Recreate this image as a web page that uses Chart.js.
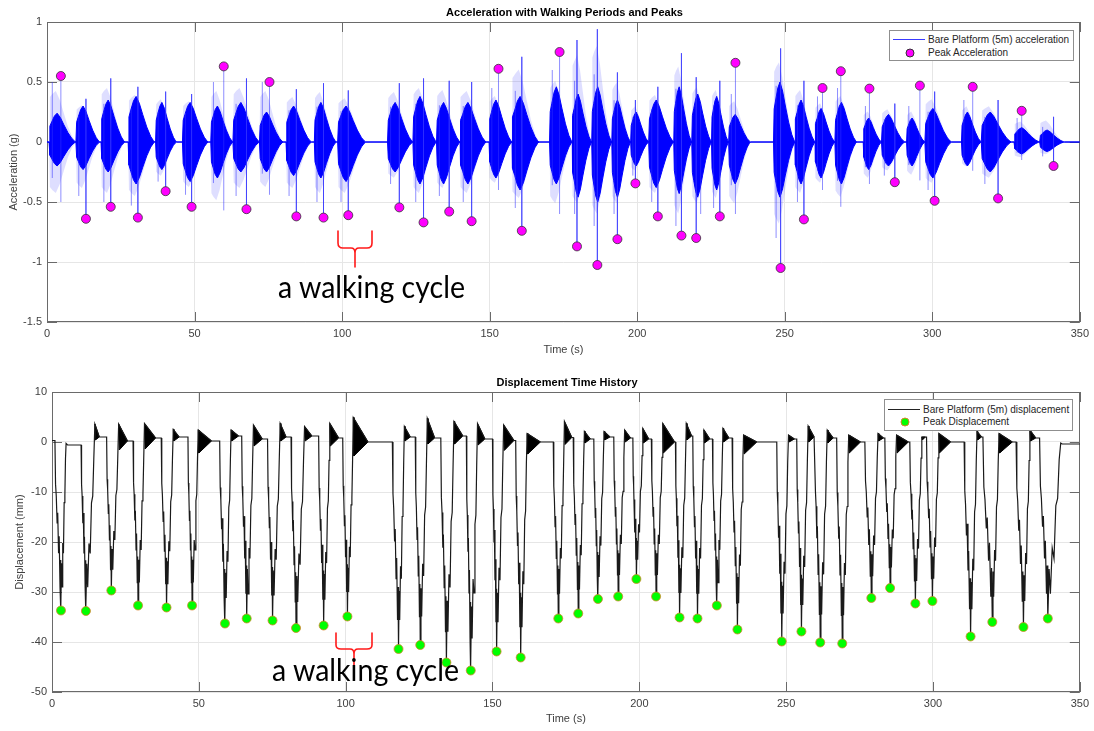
<!DOCTYPE html>
<html><head><meta charset="utf-8">
<script src="https://cdn.jsdelivr.net/npm/chart.js@4.4.1/dist/chart.umd.min.js"></script>
<style>
html,body{margin:0;padding:0;background:#fff;}
body{width:1094px;height:731px;position:relative;overflow:hidden;font-family:"Liberation Sans",Arial,sans-serif;}
.wrap{position:absolute;left:0;width:1094px;}
.title{position:absolute;font-weight:bold;font-size:11px;color:#000;white-space:nowrap;transform:translate(-50%,-50%);line-height:13px;}
.legend{position:absolute;background:#fff;border:1px solid #8f8f8f;box-sizing:border-box;}
.ltxt{position:absolute;font-size:10px;color:#262626;white-space:nowrap;line-height:12px;transform:translateY(-50%);}
.lline{position:absolute;height:1px;}
.ldot{position:absolute;width:9px;height:9px;border-radius:50%;box-sizing:border-box;transform:translate(-50%,-50%);}
svg.ov{position:absolute;left:0;top:0;pointer-events:none;}
</style></head>
<body>
<div class="wrap" style="top:0;height:365px"><canvas id="c1" width="1094" height="365"></canvas></div>
<div class="wrap" style="top:365px;height:366px"><canvas id="c2" width="1094" height="366"></canvas></div>

<div class="title" style="left:564.5px;top:12px">Acceleration with Walking Periods and Peaks</div>
<div class="title" style="left:567px;top:382px">Displacement Time History</div>

<div class="legend" style="left:889px;top:30px;width:185px;height:31px"></div>
<div class="lline" style="left:893px;top:39px;width:32px;background:#3a3aff"></div>
<div class="ldot" style="left:909.5px;top:52.5px;background:#ff00ff;border:1px solid #333"></div>
<div class="ltxt" style="left:928px;top:39.5px">Bare Platform (5m) acceleration</div>
<div class="ltxt" style="left:928px;top:52.5px">Peak Acceleration</div>

<div class="legend" style="left:884px;top:399px;width:189px;height:32px"></div>
<div class="lline" style="left:888px;top:409px;width:32px;background:#222"></div>
<div class="ldot" style="left:904.5px;top:422px;background:#00ff00;border:1px solid #d9822b"></div>
<div class="ltxt" style="left:923px;top:409.5px">Bare Platform (5m) displacement</div>
<div class="ltxt" style="left:923px;top:422px">Peak Displacement</div>

<svg class="ov" width="1094" height="731" viewBox="0 0 1094 731">
  <g fill="none" stroke="#ff1a1a" stroke-width="1.6" stroke-linecap="round">
    <path d="M338,231 L338,243 Q338,248 343,248 L351,248 Q355,248 355,253 L355,267 M355,253 Q355,248 359,248 L367,248 Q372,248 372,243 L372,231"/>
    <path d="M336,633 L336,645 Q336,649 341,649 L350,649 Q354,649 354,654 L354,667 M354,654 Q354,649 358,649 L367,649 Q372,649 372,645 L372,633"/>
  </g>
  <text x="278" y="298" font-family="Lato, 'Open Sans', sans-serif" font-size="31" fill="#000" textLength="187" lengthAdjust="spacingAndGlyphs">a walking cycle</text>
  <text x="272" y="681" font-family="Lato, 'Open Sans', sans-serif" font-size="31" fill="#000" textLength="187" lengthAdjust="spacingAndGlyphs">a walking cycle</text>
</svg>

<script>
// ---------------- DATA ----------------
const timeTicks = [0, 50, 100, 150, 200, 250, 300, 350];
const accTicks = [-1.5, -1, -0.5, 0, 0.5, 1];
const dispTicks = [-50, -40, -30, -20, -10, 0, 10];

// acceleration bursts (s) and envelope amplitudes (g)
const accStart = [0.7, 9.8, 18.3, 27.5, 36.8, 45.9, 55.5, 63.0, 72.0, 81.0, 90.6, 98.5, 115.4, 124.0, 132.0, 140.0, 149.8, 157.6, 170.3, 178.0, 184.6, 191.4, 197.8, 203.9, 212.4, 218.5, 225.2, 231.0, 246.2, 253.5, 260.3, 267.0, 276.6, 282.8, 291.3, 297.5, 309.9, 316.6, 327.7, 336.4];
const accEnd = [9.8, 17.9, 26.4, 36.5, 43.9, 54.6, 63.0, 72.0, 80.0, 89.6, 98.0, 108.0, 124.0, 132.0, 140.0, 148.8, 157.6, 166.7, 178.0, 184.6, 191.4, 197.8, 203.9, 212.4, 218.5, 225.2, 231.0, 238.4, 253.5, 260.3, 267.0, 274.4, 282.8, 290.7, 297.5, 306.5, 316.6, 326.8, 336.4, 344.8];
const accCoreUp = [0.24, 0.30, 0.35, 0.38, 0.33, 0.33, 0.30, 0.33, 0.25, 0.30, 0.33, 0.30, 0.33, 0.38, 0.33, 0.33, 0.35, 0.38, 0.46, 0.40, 0.46, 0.35, 0.25, 0.35, 0.46, 0.40, 0.38, 0.23, 0.50, 0.35, 0.28, 0.33, 0.20, 0.23, 0.20, 0.28, 0.25, 0.25, 0.12, 0.10];
const accCoreDn = [-0.20, -0.23, -0.25, -0.35, -0.23, -0.33, -0.30, -0.25, -0.25, -0.28, -0.30, -0.33, -0.25, -0.35, -0.35, -0.35, -0.30, -0.40, -0.35, -0.46, -0.50, -0.46, -0.20, -0.38, -0.43, -0.46, -0.40, -0.35, -0.46, -0.35, -0.30, -0.35, -0.23, -0.20, -0.20, -0.30, -0.20, -0.25, -0.10, -0.08];
const accSpikeUp = [0.50, 0.36, 0.53, 0.46, 0.42, 0.40, 0.50, 0.53, 0.50, 0.44, 0.49, 0.43, 0.49, 0.53, 0.51, 0.50, 0.45, 0.71, 0.60, 0.85, 0.94, 0.58, 0.35, 0.46, 0.74, 0.54, 0.51, 0.40, 0.78, 0.51, 0.38, 0.45, 0.30, 0.32, 0.30, 0.42, 0.35, 0.35, 0.20, 0.21];
const accSpikeDn = [-0.50, -0.45, -0.50, -0.53, -0.33, -0.44, -0.57, -0.45, -0.44, -0.45, -0.50, -0.50, -0.35, -0.50, -0.45, -0.50, -0.40, -0.55, -0.60, -0.60, -0.70, -0.60, -0.28, -0.50, -0.70, -0.60, -0.55, -0.60, -0.80, -0.50, -0.40, -0.54, -0.35, -0.28, -0.32, -0.40, -0.24, -0.35, -0.15, -0.12];
const accPeakT = [4.7, 13.2, 21.6, 30.8, 40.2, 49.0, 59.9, 67.6, 75.4, 84.5, 93.7, 102.1, 119.4, 127.6, 136.3, 143.9, 153.0, 160.9, 173.7, 179.6, 186.5, 193.3, 199.4, 207.0, 215.0, 220.0, 228.0, 233.3, 248.6, 256.5, 262.8, 269.0, 278.7, 287.3, 295.8, 300.8, 313.7, 322.3, 330.3, 341.1];
const accPeakV = [0.55, -0.64, -0.54, -0.63, -0.41, -0.54, 0.63, -0.56, 0.50, -0.62, -0.63, -0.61, -0.545, -0.67, -0.58, -0.66, 0.61, -0.74, 0.75, -0.87, -1.025, -0.81, -0.345, -0.62, -0.78, -0.80, -0.62, 0.66, -1.05, -0.645, 0.45, 0.59, 0.445, -0.335, 0.47, -0.49, 0.46, -0.47, 0.26, -0.20];

// displacement cycles (s, mm)
const dispInitial = 0.3;
const dispDropT = [1.0, 9.9, 18.6, 27.6, 37.2, 46.3, 57.1, 64.6, 73.4, 81.4, 90.8, 99.0, 115.9, 123.7, 132.4, 141.1, 150.0, 157.9, 170.7, 177.5, 184.5, 191.3, 197.8, 204.1, 212.3, 218.2, 224.9, 231.6, 246.8, 253.6, 259.8, 267.2, 276.8, 283.6, 292.1, 297.8, 310.6, 317.0, 328.3, 336.3];
const dispPeakT = [3.06, 11.55, 20.2, 29.3, 39.0, 47.7, 58.9, 66.3, 75.1, 83.1, 92.5, 100.6, 118.0, 125.4, 134.3, 142.6, 151.4, 159.6, 172.4, 179.2, 185.9, 192.8, 199.0, 205.7, 213.7, 219.8, 226.4, 233.4, 248.5, 255.2, 261.6, 269.1, 279.0, 285.4, 294.0, 299.8, 312.8, 320.2, 330.8, 339.1];
const dispPeakV = [-33.7, -33.8, -29.7, -32.7, -33.1, -32.7, -36.3, -35.3, -35.7, -37.2, -36.7, -34.9, -41.4, -40.6, -44.1, -45.7, -41.9, -43.1, -35.3, -34.3, -31.4, -30.9, -27.4, -30.9, -35.1, -35.3, -32.7, -37.5, -39.9, -37.9, -40.1, -40.3, -31.2, -29.2, -32.3, -31.8, -38.9, -36.0, -37.0, -35.3];
const dispRiseT = [4.8, 14.6, 22.7, 31.5, 41.3, 49.8, 61.0, 68.6, 77.7, 86.0, 94.6, 102.6, 120.0, 127.8, 136.9, 144.9, 153.8, 161.8, 174.5, 181.3, 188.0, 195.0, 201.2, 208.0, 216.0, 222.0, 228.5, 235.5, 250.8, 257.5, 264.0, 271.3, 281.3, 287.6, 296.2, 302.0, 315.0, 322.5, 333.0, 343.5];
const dispOverV = [-0.3, 3.6, 3.6, 3.7, 2.5, 2.4, 2.4, 3.4, 3.7, 3.1, 3.7, 4.9, 3.1, 4.7, 4.1, 3.7, 3.4, 1.7, 4.1, 2.1, 2.1, 2.4, 2.7, 3.7, 3.7, 2.4, 2.7, 1.4, 1.4, 3.2, 2.4, 1.4, 1.7, 1.4, 1.0, 1.7, 2.1, 1.7, 2.4, -0.2];
const dispRingAmp = [0, 0.6, 1.8, 2.2, 0.8, 2.4, 1.0, 1.4, 0.8, 1.0, 1.6, 2.8, 0.8, 1.2, 1.6, 1.2, 2.0, 2.4, 1.4, 0.8, 0.6, 0.8, 0.8, 2.2, 0.8, 0.8, 0.8, 2.4, 0.6, 1.0, 1.0, 2.2, 0.6, 2.2, 0.6, 2.2, 0.6, 2.2, 0.6, 0];
const dispRingLen = [0, 1.5, 3.0, 3.8, 2.0, 4.5, 2.5, 3.0, 2.0, 2.5, 3.0, 5.0, 2.0, 2.5, 3.0, 2.5, 3.5, 4.5, 2.5, 2.0, 2.0, 2.0, 2.0, 4.0, 1.8, 2.0, 2.0, 4.5, 2.0, 2.0, 2.0, 4.0, 1.8, 4.0, 1.2, 4.0, 1.5, 4.5, 2.0, 0];
const dispRest = [-0.6, 1.0, 0.2, 0.8, 1.0, 0.2, 1.2, 0.6, 1.0, 1.2, 0.8, 0.0, 1.0, 0.8, 1.2, 0.6, 0.3, 0.0, 0.9, 0.6, 1.0, 0.8, 0.6, 0.0, 1.2, 0.6, 0.8, 0.0, 0.6, 1.0, 0.8, 0.0, 0.8, 0.0, 1.0, 0.0, 1.0, 0.0, 0.8, -0.4];

// ---------------- drawing shapes (style) ----------------
const BURST_PROFILE = [[0,0],[0.03,0.55],[0.1,0.7],[0.2,0.9],[0.3,1.0],[0.42,0.85],[0.55,0.6],[0.7,0.33],[0.85,0.12],[0.95,0.03],[1,0]];
const HALO_PROFILE = [[0,0],[0.03,0.75],[0.12,0.8],[0.25,0.85],[0.4,0.7],[0.55,0.48],[0.7,0.26],[0.85,0.1],[1,0]];
const TROUGH_PRE = [[0.1,0.25],[0.22,0.32],[0.36,0.48],[0.46,0.42],[0.6,0.66],[0.7,0.56],[0.84,0.86],[0.92,0.7]];
const TROUGH_POST = [[0.1,0.72],[0.2,0.86],[0.34,0.6],[0.48,0.66],[0.62,0.36],[0.76,0.32],[0.88,0.1]];

// ---------------- build datasets ----------------
const accUp = [{x:0,y:0}], accDn = [{x:0,y:0}], haloUp = [{x:0,y:0}], haloDn = [{x:0,y:0}], accSpikes = [];
accStart.forEach((s, i) => {
  const L = accEnd[i] - s;
  BURST_PROFILE.forEach(([f, k]) => {
    accUp.push({x: s + f * L, y: k * accCoreUp[i]});
    accDn.push({x: s + f * L, y: k * accCoreDn[i]});
  });
  HALO_PROFILE.forEach(([f, k]) => {
    haloUp.push({x: s + f * L, y: Math.max(k * accSpikeUp[i], 0)});
    haloDn.push({x: s + f * L, y: Math.min(k * accSpikeDn[i], 0)});
  });
  const p = accPeakT[i], v = accPeakV[i];
  const opp = v > 0 ? accSpikeDn[i] : accSpikeUp[i];
  accSpikes.push({x:p, y:opp}, {x:p, y:v}, {x:p, y:null});
  let ts = s + 0.12 * L; if (Math.abs(ts - p) < 0.8) ts = s + 0.45 * L;
  accSpikes.push({x:ts, y:accSpikeDn[i] * (v > 0 ? 0.6 : 1) }, {x:ts, y:accSpikeUp[i] * (v > 0 ? 1 : 0.6)}, {x:ts, y:null});
});
accUp.push({x:350, y:0}); accDn.push({x:350, y:0}); haloUp.push({x:350, y:0}); haloDn.push({x:350, y:0});
const accPeaks = accPeakT.map((t, i) => ({x:t, y:accPeakV[i]}));

const disp = [{x:0, y:dispInitial}], ringTop = [], ringBot = [];
dispDropT.forEach((d, i) => {
  const p = dispPeakT[i], v = dispPeakV[i], R = dispRiseT[i], o = dispOverV[i];
  const prevRest = i === 0 ? dispInitial : dispRest[i - 1];
  disp.push({x:d, y:prevRest});
  TROUGH_PRE.forEach(([f, k]) => disp.push({x:d + f * (p - d), y:k * v}));
  disp.push({x:p, y:v});
  TROUGH_POST.forEach(([f, k]) => disp.push({x:p + f * (R - p), y:k * v}));
  disp.push({x:R, y:o});
  const len = dispRingLen[i] > 0 ? dispRingLen[i] : 0.5;
  disp.push({x:R + len, y:dispRest[i]});
  if (dispRingAmp[i] > 0) {
    const xm = R + 0.2;
    const topMid = o + (dispRest[i] - o) * (0.2 / len);
    ringTop.push({x:R, y:o}, {x:xm, y:topMid}, {x:R + len, y:dispRest[i]}, {x:R + len + 0.01, y:null});
    ringBot.push({x:R, y:o}, {x:xm, y:dispRest[i] - dispRingAmp[i]}, {x:R + len, y:dispRest[i]}, {x:R + len + 0.01, y:null});
  }
});
disp.push({x:350, y:dispRest[dispRest.length - 1]});
const dispPeaks = dispPeakT.map((t, i) => ({x:t, y:dispPeakV[i]}));

// ---------------- chart helpers ----------------
const FONT = {family:"'Liberation Sans', Arial, sans-serif", size:11};
const TXT = '#404040';
const boxPlugin = {
  id:'matlabBox',
  beforeDatasetsDraw(chart) {
    const {ctx, chartArea:a, scales:{x, y}} = chart;
    ctx.save();
    ctx.strokeStyle = '#6a6a6a'; ctx.lineWidth = 1;
    ctx.beginPath();
    x.ticks.forEach(t => {
      const px = Math.round(x.getPixelForValue(t.value)) + 0.5;
      ctx.moveTo(px, a.bottom); ctx.lineTo(px, a.bottom - 10);
      ctx.moveTo(px, a.top); ctx.lineTo(px, a.top + 10);
    });
    y.ticks.forEach(t => {
      const py = Math.round(y.getPixelForValue(t.value)) + 0.5;
      ctx.moveTo(a.left, py); ctx.lineTo(a.left + 10, py);
      ctx.moveTo(a.right, py); ctx.lineTo(a.right - 10, py);
    });
    ctx.stroke();
    ctx.strokeRect(Math.round(a.left) + 0.5, Math.round(a.top) + 0.5, Math.round(a.width) - 1, Math.round(a.height) - 1);
    ctx.restore();
  }
};
function axes(yTicks, yTitle, yWidth, xHeight, yTitlePad, xTitlePad) {
  return {
    x: {type:'linear', min:0, max:350,
      afterBuildTicks: s => { s.ticks = timeTicks.map(v => ({value:v})); },
      afterFit: s => { s.height = xHeight; },
      grid:{color:'#e6e6e6', drawTicks:false}, border:{display:false},
      ticks:{padding:5, font:FONT, color:TXT, maxRotation:0, autoSkip:false, callback: v => String(v)},
      title:{display:true, text:'Time (s)', font:FONT, color:TXT, padding:{top:0, bottom:xTitlePad}}},
    y: {type:'linear', min:yTicks[0], max:yTicks[yTicks.length - 1],
      afterBuildTicks: s => { s.ticks = yTicks.map(v => ({value:v})); },
      afterFit: s => { s.width = yWidth; },
      grid:{color:'#e6e6e6', drawTicks:false}, border:{display:false},
      ticks:{padding:5, font:FONT, color:TXT, autoSkip:false, callback: v => String(v)},
      title:{display:true, text:yTitle, font:FONT, color:TXT, padding:{top:yTitlePad, bottom:0}}}
  };
}
const common = {responsive:false, animation:false, devicePixelRatio:1,
  plugins:{legend:{display:false}, tooltip:{enabled:false}, title:{display:false}},
  elements:{point:{radius:0}, line:{tension:0}}};

new Chart(document.getElementById('c1'), {
  type:'scatter',
  data:{datasets:[
    {label:'Peak Acceleration', data:accPeaks, order:0, showLine:false, pointRadius:4.5, pointBackgroundColor:'#ff00ff', pointBorderColor:'#333', pointBorderWidth:0.8},
    {label:'spikes', data:accSpikes, order:1, showLine:true, spanGaps:false, borderColor:'rgba(50,50,255,0.55)', borderWidth:1, pointRadius:0},
    {label:'Bare Platform (5m) acceleration', data:accUp, order:2, showLine:true, borderColor:'#0000ff', borderWidth:1, backgroundColor:'#0000ff', fill:'origin', pointRadius:0},
    {label:'lower', data:accDn, order:3, showLine:true, borderColor:'#0000ff', borderWidth:1, backgroundColor:'#0000ff', fill:'origin', pointRadius:0},
    {label:'haloUp', data:haloUp, order:4, showLine:true, borderColor:'rgba(0,0,0,0)', borderWidth:0, backgroundColor:'rgba(70,70,255,0.18)', fill:'origin', pointRadius:0},
    {label:'haloDn', data:haloDn, order:5, showLine:true, borderColor:'rgba(0,0,0,0)', borderWidth:0, backgroundColor:'rgba(70,70,255,0.18)', fill:'origin', pointRadius:0}
  ]},
  options:Object.assign({}, common, {
    layout:{padding:{top:22, right:12, left:0, bottom:0}},
    scales:axes(accTicks, 'Acceleration (g)', 47, 43, 7, 8)
  }),
  plugins:[boxPlugin]
});

new Chart(document.getElementById('c2'), {
  type:'scatter',
  data:{datasets:[
    {label:'Peak Displacement', data:dispPeaks, order:0, showLine:false, pointRadius:4.5, pointBackgroundColor:'#00ff00', pointBorderColor:'#d9822b', pointBorderWidth:0.8},
    {label:'Bare Platform (5m) displacement', data:disp, order:1, showLine:true, borderColor:'#1a1a1a', borderWidth:1.2, pointRadius:0},
    {label:'ringTop', data:ringTop, order:2, showLine:true, spanGaps:false, borderColor:'#000', borderWidth:1, pointRadius:0},
    {label:'ringBot', data:ringBot, order:3, showLine:true, spanGaps:false, borderColor:'#000', borderWidth:1, backgroundColor:'#000', fill:'-1', pointRadius:0}
  ]},
  options:Object.assign({}, common, {
    layout:{padding:{top:27, right:12, left:0, bottom:0}},
    scales:axes(dispTicks, 'Displacement (mm)', 52, 39, 13, 5)
  }),
  plugins:[boxPlugin]
});
</script>
</body></html>
